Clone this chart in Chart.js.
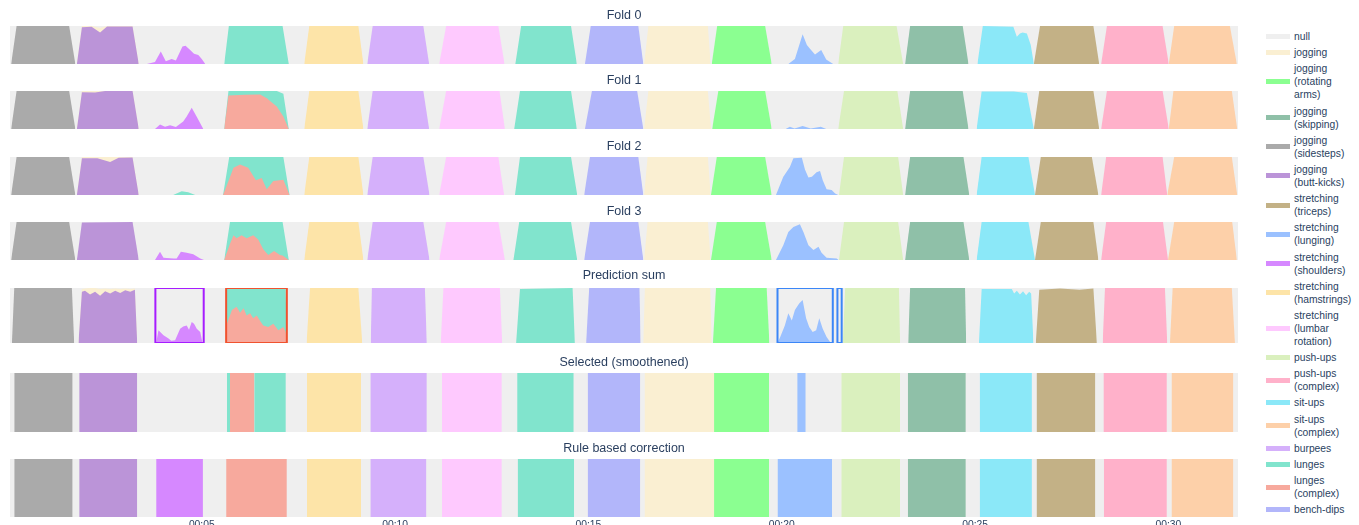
<!DOCTYPE html>
<html>
<head>
<meta charset="utf-8">
<script src="https://cdn.jsdelivr.net/npm/chart.js@4.4.1/dist/chart.umd.min.js"></script>
<style>
  body { margin: 0; width: 1359px; height: 525px; overflow: hidden; background: #fff; position: relative; font-family: "Liberation Sans", Arial, sans-serif; }
  canvas { position: absolute; left: 10px; }
  #legend { position: absolute; left: 1266px; top: 30px; }
  .item { display: flex; align-items: center; margin-bottom: 3.2px; }
  .sw { width: 24px; height: 5px; margin-right: 4px; flex: none; }
  .lbl { font-size: 10.3px; line-height: 13px; color: #2a3f5f; white-space: pre-line; }
</style>
</head>
<body>
<div id="legend"></div>
<script>
// classes, in legend order (stack order is the reverse, null on top)
const keys = ['null', 'jog', 'rot', 'skip', 'side', 'butt', 'tri', 'lung', 'shoul', 'ham', 'lumb', 'push', 'pushC', 'sit', 'sitC', 'burp', 'lunge', 'lungeC', 'bench'];
const classNames = ['null', 'jogging', 'jogging\n(rotating\narms)', 'jogging\n(skipping)', 'jogging\n(sidesteps)', 'jogging\n(butt-kicks)',
    'stretching\n(triceps)', 'stretching\n(lunging)', 'stretching\n(shoulders)', 'stretching\n(hamstrings)', 'stretching\n(lumbar\nrotation)',
    'push-ups', 'push-ups\n(complex)', 'sit-ups', 'sit-ups\n(complex)', 'burpees', 'lunges', 'lunges\n(complex)', 'bench-dips'];
const classColors = ['#efefef', '#faefd2', '#8bff91', '#8fc0a8', '#aaaaaa', '#bb94d8', '#c3b186', '#9bc1ff', '#d688ff', '#fde4a8', '#fec9fe',
    '#daf0be', '#ffb1ca', '#8be8f8', '#fdd0a9', '#d5b0fb', '#81e4cd', '#f7a99d', '#b2b6fa'];

const panelTitles = ['Fold 0', 'Fold 1', 'Fold 2', 'Fold 3', 'Prediction sum', 'Selected (smoothened)', 'Rule based correction'];

// time in minutes
const recording = [0.04, 31.8];
const tickValues = [5, 10, 15, 20, 25, 30];
const tickLabels = ['00:05', '00:10', '00:15', '00:20', '00:25', '00:30'];

// class probabilities, [minute, p]
const fold0 = [
    ['bench', [[14.91,0],[15.06,1],[16.29,1],[16.42,0]]],
    ['lunge', [[5.58,0],[5.70,1],[7.09,1],[7.25,0],[13.11,0],[13.26,1],[14.55,1],[14.70,0]]],
    ['burp', [[9.28,0],[9.42,1],[10.73,1],[10.88,0]]],
    ['sitC', [[30.01,0],[30.15,1],[31.59,1],[31.77,0]]],
    ['sit', [[25.06,0],[25.20,1],[25.99,0.98],[26.08,0.72],[26.16,0.80],[26.23,0.83],[26.34,0.80],[26.44,0.50],[26.52,0]]],
    ['pushC', [[28.26,0],[28.41,1],[29.85,1],[30.01,0]]],
    ['push', [[21.46,0],[21.59,1],[22.97,1],[23.14,0]]],
    ['lumb', [[11.14,0],[11.32,1],[12.67,1],[12.83,0]]],
    ['ham', [[7.65,0],[7.78,1],[9.05,1],[9.18,0]]],
    ['shoul', [[3.58,0],[3.79,0.05],[3.94,0.33],[4.07,0.07],[4.22,0.13],[4.33,0.09],[4.50,0.46],[4.58,0.48],[4.70,0.37],[4.80,0.27],[4.91,0.24],[5.00,0.13],[5.09,0]]],
    ['lung', [[20.17,0],[20.34,0.13],[20.54,0.78],[20.65,0.50],[20.73,0.40],[20.86,0.25],[21.02,0.37],[21.15,0.12],[21.33,0]]],
    ['tri', [[26.52,0],[26.68,1],[28.06,1],[28.21,0]]],
    ['butt', [[1.77,0],[1.90,0.97],[2.15,0.98],[2.37,0.83],[2.55,0.99],[3.21,0.99],[3.37,0]]],
    ['side', [[0.07,0],[0.21,1],[1.57,1],[1.73,0]]],
    ['skip', [[23.19,0],[23.32,1],[24.68,1],[24.83,0]]],
    ['rot', [[18.19,0],[18.33,1],[19.57,1],[19.74,0]]],
    ['jog', [[1.77,0],[1.90,0.03],[2.15,0.02],[2.37,0.12],[2.55,0.01],[3.21,0.01],[3.37,0],[16.44,0],[16.55,1],[18.09,1],[18.16,0]]]
];

const fold1 = [
    ['bench', [[14.91,0],[15.09,1],[16.26,1],[16.42,0]]],
    ['lungeC', [[5.58,0],[5.69,0.88],[6.12,0.90],[6.51,0.91],[6.68,0.81],[6.94,0.59],[7.11,0.33],[7.25,0]]],
    ['lunge', [[5.58,0],[5.69,0.12],[6.12,0.10],[6.51,0.09],[6.68,0.19],[6.94,0.41],[7.11,0.60],[7.25,0],[13.08,0],[13.23,1],[14.55,1],[14.70,0]]],
    ['burp', [[9.28,0],[9.42,1],[10.73,1],[10.88,0]]],
    ['sitC', [[30.01,0],[30.13,1],[31.64,1],[31.78,0]]],
    ['sit', [[25.04,0],[25.17,0.99],[26.00,0.99],[26.34,0.95],[26.52,0]]],
    ['pushC', [[28.26,0],[28.41,1],[29.85,1],[30.01,0]]],
    ['push', [[21.46,0],[21.61,1],[22.99,1],[23.14,0]]],
    ['lumb', [[11.14,0],[11.32,1],[12.70,1],[12.84,0]]],
    ['ham', [[7.65,0],[7.78,1],[9.05,1],[9.18,0]]],
    ['shoul', [[3.79,0],[3.92,0.12],[4.05,0.06],[4.18,0.10],[4.33,0.05],[4.52,0.20],[4.61,0.33],[4.74,0.56],[4.88,0.30],[5.04,0]]],
    ['lung', [[20.10,0],[20.21,0.06],[20.33,0.01],[20.54,0.08],[20.75,0.01],[21.01,0.06],[21.15,0]]],
    ['tri', [[26.52,0],[26.66,1],[28.06,1],[28.21,0]]],
    ['butt', [[1.77,0],[1.90,0.97],[2.24,0.96],[2.50,1],[3.21,1],[3.37,0]]],
    ['side', [[0.07,0],[0.21,1],[1.57,1],[1.73,0]]],
    ['skip', [[23.19,0],[23.32,1],[24.68,1],[24.83,0]]],
    ['rot', [[18.20,0],[18.36,1],[19.57,1],[19.74,0]]],
    ['jog', [[1.77,0],[1.90,0.03],[2.24,0.04],[2.50,0],[3.21,0],[3.37,0],[16.44,0],[16.55,1],[18.09,1],[18.17,0]]]
];

const fold2 = [
    ['bench', [[14.89,0],[15.04,1],[16.29,1],[16.42,0]]],
    ['lungeC', [[5.55,0],[5.71,0.42],[5.82,0.72],[5.99,0.80],[6.20,0.72],[6.40,0.39],[6.55,0.45],[6.68,0.15],[6.85,0.37],[7.11,0.40],[7.27,0]]],
    ['lunge', [[4.26,0],[4.48,0.10],[4.65,0.07],[4.83,0],[5.55,0],[5.71,0.58],[5.82,0.28],[5.99,0.20],[6.20,0.28],[6.40,0.61],[6.55,0.55],[6.68,0.85],[6.85,0.63],[7.11,0.60],[7.27,0],[13.10,0],[13.23,1],[14.55,1],[14.71,0]]],
    ['burp', [[9.28,0],[9.42,1],[10.73,1],[10.89,0]]],
    ['sitC', [[29.97,0],[30.15,1],[31.64,1],[31.78,0]]],
    ['sit', [[25.04,0],[25.17,1],[26.38,1],[26.55,0]]],
    ['pushC', [[28.26,0],[28.39,1],[29.85,1],[29.97,0]]],
    ['push', [[21.48,0],[21.61,1],[23.01,1],[23.14,0]]],
    ['lumb', [[11.14,0],[11.32,1],[12.67,1],[12.82,0]]],
    ['ham', [[7.65,0],[7.78,1],[9.05,1],[9.18,0]]],
    ['lung', [[19.85,0],[20.04,0.48],[20.21,0.74],[20.30,0.97],[20.52,0.98],[20.60,0.67],[20.69,0.46],[20.78,0.48],[20.90,0.60],[20.99,0.63],[21.06,0.39],[21.16,0.15],[21.29,0.13],[21.38,0.04],[21.46,0]]],
    ['tri', [[26.55,0],[26.70,1],[28.02,1],[28.19,0]]],
    ['butt', [[1.77,0],[1.90,0.97],[2.30,0.97],[2.63,0.87],[2.85,0.98],[3.21,0.99],[3.37,0]]],
    ['side', [[0.07,0],[0.21,1],[1.57,1],[1.73,0]]],
    ['skip', [[23.19,0],[23.32,1],[24.70,1],[24.85,0]]],
    ['rot', [[18.17,0],[18.32,1],[19.57,1],[19.74,0]]],
    ['jog', [[1.77,0],[1.90,0.03],[2.30,0.03],[2.63,0.13],[2.85,0.02],[3.21,0.01],[3.37,0],[16.44,0],[16.53,1],[18.09,1],[18.16,0]]]
];

const fold3 = [
    ['bench', [[14.89,0],[15.04,1],[16.29,1],[16.42,0]]],
    ['lungeC', [[5.58,0],[5.73,0.43],[5.82,0.65],[5.90,0.57],[6.03,0.65],[6.16,0.57],[6.33,0.65],[6.46,0.54],[6.59,0.28],[6.72,0.13],[6.87,0.24],[7.02,0.13],[7.09,0.12],[7.25,0]]],
    ['lunge', [[5.58,0],[5.73,0.57],[5.82,0.35],[5.90,0.43],[6.03,0.35],[6.16,0.43],[6.33,0.35],[6.46,0.46],[6.59,0.72],[6.72,0.87],[6.87,0.76],[7.02,0.87],[7.09,0.88],[7.25,0],[13.06,0],[13.21,1],[14.55,1],[14.71,0]]],
    ['burp', [[9.28,0],[9.42,1],[10.73,1],[10.89,0]]],
    ['sitC', [[29.99,0],[30.15,1],[31.65,1],[31.77,0]]],
    ['sit', [[25.04,0],[25.17,1],[26.38,1],[26.55,0]]],
    ['pushC', [[28.26,0],[28.39,1],[29.86,1],[29.99,0]]],
    ['push', [[21.48,0],[21.61,1],[23.01,1],[23.14,0]]],
    ['lumb', [[11.14,0],[11.32,1],[12.67,1],[12.84,0]]],
    ['ham', [[7.65,0],[7.78,1],[9.05,1],[9.18,0]]],
    ['shoul', [[3.79,0],[3.92,0.22],[4.01,0.06],[4.27,0.04],[4.35,0.04],[4.46,0.22],[4.61,0.19],[4.78,0.15],[4.96,0.04],[5.06,0]]],
    ['lung', [[19.85,0],[20.04,0.39],[20.17,0.74],[20.30,0.87],[20.47,0.94],[20.56,0.74],[20.69,0.39],[20.82,0.26],[20.95,0.35],[21.03,0.19],[21.16,0.06],[21.42,0.04],[21.47,0]]],
    ['tri', [[26.55,0],[26.70,1],[28.06,1],[28.19,0]]],
    ['butt', [[1.77,0],[1.90,0.99],[3.21,1],[3.37,0]]],
    ['side', [[0.07,0],[0.21,1],[1.57,1],[1.73,0]]],
    ['skip', [[23.19,0],[23.32,1],[24.70,1],[24.85,0]]],
    ['rot', [[18.17,0],[18.32,1],[19.57,1],[19.74,0]]],
    ['jog', [[16.44,0],[16.53,1],[18.09,1],[18.16,0]]]
];

const predictionSum = [
    ['bench', [[14.94,0],[15.02,1],[16.32,1],[16.35,0]]],
    ['lungeC', [[5.63,0],[5.65,0.35],[5.78,0.60],[5.90,0.66],[5.99,0.55],[6.08,0.63],[6.16,0.50],[6.25,0.54],[6.33,0.45],[6.42,0.50],[6.51,0.40],[6.59,0.32],[6.72,0.29],[6.85,0.35],[6.98,0.23],[7.11,0.29],[7.17,0.20],[7.20,0]]],
    ['lunge', [[5.63,0],[5.65,0.65],[5.78,0.40],[5.90,0.34],[5.99,0.45],[6.08,0.37],[6.16,0.50],[6.25,0.46],[6.33,0.55],[6.42,0.50],[6.51,0.60],[6.59,0.68],[6.72,0.71],[6.85,0.65],[6.98,0.77],[7.11,0.71],[7.17,0.78],[7.20,0],[13.13,0],[13.23,0.98],[14.59,1],[14.65,0]]],
    ['burp', [[9.37,0],[9.40,1],[10.77,1],[10.82,0]]],
    ['sitC', [[30.04,0],[30.11,1],[31.64,1],[31.72,0]]],
    ['sit', [[25.10,0],[25.17,0.98],[25.95,0.98],[26.01,0.90],[26.08,0.95],[26.16,0.88],[26.24,0.94],[26.32,0.87],[26.40,0.93],[26.45,0.90],[26.51,0]]],
    ['pushC', [[28.30,0],[28.36,1],[29.91,1],[29.97,0]]],
    ['push', [[21.58,0],[21.64,1],[23.03,1],[23.06,0]]],
    ['lumb', [[11.18,0],[11.25,1],[12.71,1],[12.77,0]]],
    ['ham', [[7.71,0],[7.80,1],[9.05,1],[9.15,0]]],
    ['shoul', [[3.82,0],[3.88,0.23],[4.01,0.14],[4.14,0.08],[4.21,0.04],[4.31,0.05],[4.44,0.26],[4.52,0.30],[4.61,0.32],[4.67,0.24],[4.74,0.38],[4.80,0.35],[4.87,0.26],[4.96,0.20],[5.02,0]]],
    ['lung', [[19.89,0],[19.96,0.11],[20.08,0.32],[20.17,0.54],[20.26,0.41],[20.34,0.60],[20.45,0.72],[20.54,0.78],[20.63,0.45],[20.71,0.29],[20.80,0.20],[20.89,0.23],[20.97,0.45],[21.06,0.26],[21.16,0.11],[21.27,0]]],
    ['tri', [[26.57,0],[26.66,0.97],[27.20,0.99],[27.70,0.97],[28.06,0.99],[28.15,0]]],
    ['butt', [[1.81,0],[1.90,0.93],[1.98,0.95],[2.11,0.88],[2.24,0.93],[2.37,0.86],[2.50,0.94],[2.63,0.90],[2.76,0.95],[2.89,0.91],[3.02,0.96],[3.15,0.93],[3.27,0.97],[3.33,0]]],
    ['side', [[0.09,0],[0.15,1],[1.64,1],[1.70,0]]],
    ['skip', [[23.27,0],[23.32,1],[24.74,1],[24.77,0]]],
    ['rot', [[18.22,0],[18.30,1],[19.61,1],[19.68,0]]],
    ['jog', [[1.81,0],[1.90,0.05],[1.98,0.04],[2.11,0.12],[2.24,0.07],[2.37,0.12],[2.50,0.05],[2.63,0.08],[2.76,0.04],[2.89,0.07],[3.02,0.03],[3.15,0.05],[3.27,0.02],[3.33,0],[16.42,0],[16.46,1],[18.15,1],[18.19,0]]]
];

// marked segments in the prediction sum, [start, end]
const predBoxes = [[3.80, 5.05], [5.63, 7.20], [19.89, 21.32], [21.44, 21.55]];
const boxColors = ['#a61cff', '#f0522f', '#3b86f7', '#3b86f7'];

// one-hot segments, [class, start, end]
const selected = [
    ['side',0.15,1.66], ['butt',1.83,3.33], ['lunge',5.65,5.73], ['lungeC',5.73,6.36], ['lunge',6.36,7.17],
    ['ham',7.72,9.12], ['burp',9.36,10.82], ['lumb',11.21,12.76], ['lunge',13.16,14.62], ['bench',14.98,16.34],
    ['jog',16.45,18.25], ['rot',18.25,19.67], ['lung',20.40,20.62], ['push',21.54,23.06], ['skip',23.26,24.76],
    ['sit',25.12,26.47], ['tri',26.59,28.11], ['pushC',28.32,29.96], ['sitC',30.08,31.68]
];
const ruleBased = [
    ['side',0.15,1.66], ['butt',1.83,3.33], ['shoul',3.82,5.03], ['lungeC',5.63,7.20], ['ham',7.72,9.12],
    ['burp',9.36,10.81], ['lumb',11.21,12.76], ['lunge',13.17,14.63], ['bench',14.98,16.34], ['jog',16.45,18.25],
    ['rot',18.25,19.67], ['lung',19.89,21.30], ['push',21.54,23.06], ['skip',23.26,24.76], ['sit',25.12,26.47],
    ['tri',26.59,28.11], ['pushC',28.33,29.96], ['sitC',30.08,31.68]
];

function segmentsToRows(segments) {
    return keys.map(k => {
        const pts = [];
        segments.filter(s => s[0] === k).forEach(s => pts.push([s[1],0], [s[1],1], [s[2],1], [s[2],0]));
        return [k, pts];
    }).filter(r => r[1].length);
}

const toXY = p => ({x: p[0], y: p[1]});

function makeDatasets(rows, boxes) {
    const sets = [];
    (boxes || []).forEach((b, i) => sets.push({
        data: [[b[0],0],[b[0],1],[b[1],1],[b[1],0],[b[0],0]].map(toXY),
        borderColor: boxColors[i], borderWidth: 2, borderJoinStyle: 'miter', fill: false, stack: 'box' + i
    }));
    // bench-dips first = bottom of the stack, drawn last
    for (let i = keys.length - 1; i > 0; i--) {
        rows.filter(r => r[0] === keys[i]).forEach(r => sets.push({
            label: classNames[i], data: r[1].map(toXY), backgroundColor: classColors[i],
            borderColor: 'transparent', borderWidth: 0, fill: 'origin', stack: 'prob'
        }));
    }
    sets.push({
        label: 'null', data: recording.map(x => ({x: x, y: 1})), backgroundColor: classColors[0],
        borderColor: 'transparent', borderWidth: 0, fill: 'origin', stack: 'null'
    });
    return sets;
}

const panels = [
    {rows: fold0, stacked: true, top: 26, h: 38, pad: 4},
    {rows: fold1, stacked: true, top: 91, h: 38, pad: 4},
    {rows: fold2, stacked: true, top: 157, h: 38, pad: 4},
    {rows: fold3, stacked: true, top: 222, h: 38, pad: 4},
    {rows: predictionSum, stacked: true, boxes: predBoxes, top: 288, h: 55, pad: 6},
    {rows: segmentsToRows(selected), stacked: false, top: 373, h: 59, pad: 4},
    {rows: segmentsToRows(ruleBased), stacked: false, top: 459, h: 58, pad: 4}
];

Chart.defaults.font.family = '"Liberation Sans", Arial, sans-serif';
const AXIS_H = 20;

panels.forEach((p, idx) => {
    const last = idx === panels.length - 1;
    const canvas = document.createElement('canvas');
    const titleH = 15 + p.pad;
    canvas.width = 1228;
    canvas.height = titleH + p.h + (last ? AXIS_H : 0);
    canvas.style.top = (p.top - titleH) + 'px';
    document.body.appendChild(canvas);

    const xAxis = {
        type: 'linear',
        min: recording[0],
        max: recording[1],
        display: last,
        grid: { display: false, drawTicks: false },
        border: { display: false },
        afterBuildTicks: scale => { scale.ticks = tickValues.map(v => ({value: v})); },
        ticks: {
            padding: 2,
            autoSkip: false,
            maxRotation: 0,
            color: '#2a3f5f',
            font: { size: 10.3 },
            callback: (v, i) => tickLabels[i]
        }
    };
    if (last) xAxis.afterFit = scale => { scale.height = AXIS_H; };

    new Chart(canvas.getContext('2d'), {
        type: 'line',
        data: { datasets: makeDatasets(p.rows, p.boxes) },
        options: {
            responsive: false,
            animation: false,
            events: [],
            layout: { padding: 0, autoPadding: false },
            elements: { point: { radius: 0 }, line: { tension: 0 } },
            plugins: {
                legend: { display: false },
                tooltip: { enabled: false },
                title: {
                    display: true,
                    text: panelTitles[idx],
                    color: '#2a3f5f',
                    font: { size: 12.5, weight: 'normal', lineHeight: 1.2 },
                    padding: { top: 1.5, bottom: p.pad - 1.5 }
                }
            },
            scales: {
                x: xAxis,
                y: { stacked: p.stacked, min: 0, max: 1, display: false }
            }
        }
    });
});

// legend
const legend = document.getElementById('legend');
keys.forEach((k, i) => {
    const item = document.createElement('div');
    item.className = 'item';
    item.innerHTML = '<div class="sw" style="background:' + classColors[i] + '"></div><div class="lbl"></div>';
    item.querySelector('.lbl').textContent = classNames[i];
    legend.appendChild(item);
});
</script>
</body>
</html>
